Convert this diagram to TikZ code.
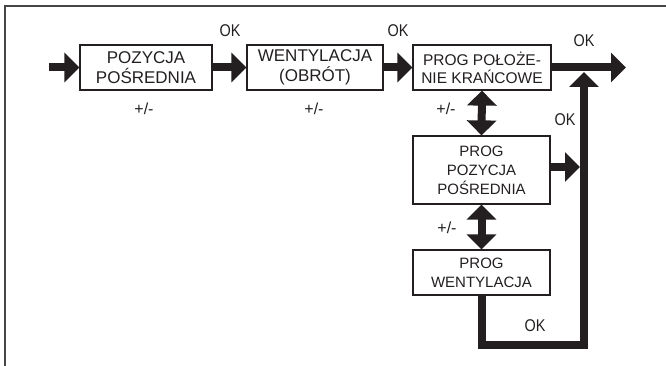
\documentclass[tikz,border=0pt]{standalone}
\usepackage{fontspec}
\setmainfont{Liberation Sans}
\usetikzlibrary{arrows.meta}
\definecolor{ink}{RGB}{35,31,32}
\definecolor{framecol}{RGB}{70,70,70}
\tikzset{
  box/.style={draw=ink, line width=1.2pt, inner sep=0pt, align=center, text=ink},
  bigtxt/.style={font=\fontsize{17}{20}\selectfont},
  midtxt/.style={font=\fontsize{15.5}{18}\selectfont},
  smltxt/.style={font=\fontsize{15}{19}\selectfont},
  lbl/.style={text=ink, inner sep=0pt, font=\fontsize{17}{19}\selectfont, xscale=0.85},
  pmlbl/.style={text=ink, inner sep=0pt, font=\fontsize{16}{18}\selectfont},
  fat/.style={draw=ink, line width=8pt, line cap=butt},
  tipA/.tip={Triangle[length=15pt,width=29pt]},
  fatarrow/.style={fat, -{tipA}},
  fatdouble/.style={fat, {tipA}-{tipA}},
  frameline/.style={draw=framecol, line width=1.4pt}
}
\begin{document}
\begin{tikzpicture}[x=1pt,y=-1pt]
\useasboundingbox (0,0) rectangle (666,366);
% frame
\coordinate (fR) at (666,6);
\coordinate (fTL) at (5,6);
\coordinate (fB) at (5,366);
\draw[frameline] (fR) -- (fTL) -- (fB);
% boxes
\node[box,bigtxt,minimum width=132pt,minimum height=45pt] (b1) at (146,67.5) {POZYCJA\\POŚREDNIA};
\node[box,bigtxt,minimum width=136pt,minimum height=45pt] (b2) at (315,67.5) {WENTYLACJA\\(OBRÓT)};
\node[box,midtxt,minimum width=138pt,minimum height=45pt] (b3) at (482,67.5) {PROG POŁOŻE-\\NIE KRAŃCOWE};
\node[box,smltxt,minimum width=137pt,minimum height=68pt] (b4) at (481.5,170) {PROG\\POZYCJA\\POŚREDNIA};
\node[box,smltxt,minimum width=137pt,minimum height=45pt] (b5) at (481.5,272.5) {PROG\\WENTYLACJA};
% connector end points
\coordinate (in) at (49,67.5);
\coordinate (out) at (626,67.5);
\coordinate (j4) at (580,167);
\coordinate (b4r) at (b4.east |- j4);
\coordinate (corner) at (584,344.5);
\coordinate (j1) at (584,72);
% connectors
\draw[fatarrow] (in) -- (b1.west);
\draw[fatarrow] (b1.east) -- (b2.west);
\draw[fatarrow] (b2.east) -- (b3.west);
\draw[fatarrow] (b3.east) -- (out);
\draw[fatdouble] (b3.south) -- (b4.north);
\draw[fatdouble] (b4.south) -- (b5.north);
\draw[fatarrow] (b4r) -- (j4);
\draw[fatarrow, line join=miter] (b5.south) |- (corner) -- (j1);
% labels
\node[lbl] (ok1) at (230,31) {OK};
\node[lbl] (ok2) at (398,31) {OK};
\node[lbl] (ok3) at (584,41) {OK};
\node[lbl] (ok4) at (565,120) {OK};
\node[lbl] (ok5) at (535,326) {OK};
\node[pmlbl] (pm1) at (144,109) {+/-};
\node[pmlbl] (pm2) at (314,109) {+/-};
\node[pmlbl] (pm3) at (446,109) {+/-};
\node[pmlbl] (pm4) at (447,228) {+/-};
\end{tikzpicture}
\end{document}
